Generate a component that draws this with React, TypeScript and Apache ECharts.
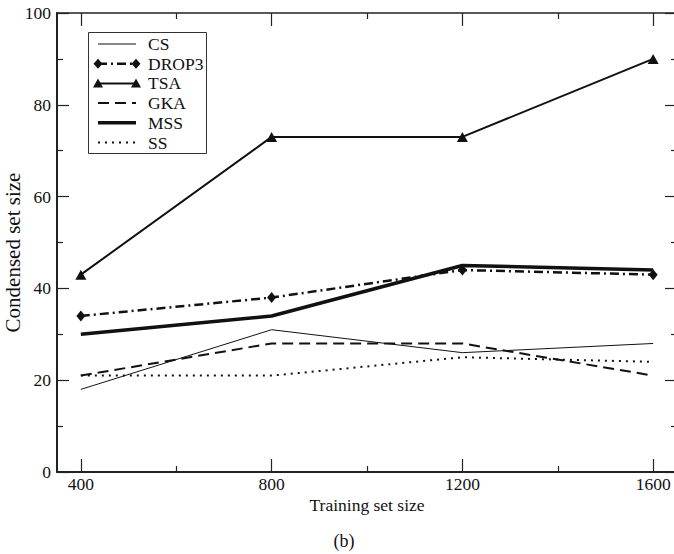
import React, { useEffect, useRef } from "react";
import * as echarts from "echarts";

const trainingSizes = [400, 800, 1200, 1600];
const xMajorTicks = [400, 800, 1200, 1600];
const xMinorTicks = [600, 1000, 1400];
const xTickSlots = [
  "350", "400", "450", "500", "550", "600", "650", "700", "750",
  "800", "850", "900", "950", "1000", "1050", "1100", "1150", "1200",
  "1250", "1300", "1350", "1400", "1450", "1500", "1550", "1600", "1650",
];
const csValues = [18, 31, 26, 28];
const drop3Values = [34, 38, 44, 43];
const tsaValues = [43, 73, 73, 90];
const gkaValues = [21, 28, 28, 21];
const mssValues = [30, 34, 45, 44];
const ssValues = [21, 21, 25, 24];
const legendNames = ["CS", "DROP3", "TSA", "GKA", "MSS", "SS"];

const FONT = "'Liberation Serif', 'Times New Roman', serif";
const FS = 17.5;
const INK = "#111";
const AXIS = "#222";

function pairs(vals: number[]) {
  return trainingSizes.map((x, i) => [x, vals[i]]);
}

export default function App() {
  const ref = useRef<HTMLDivElement>(null);
  useEffect(() => {
    document.body.style.margin = "0";
    const chart = echarts.init(ref.current!, null, { renderer: "svg" });

    const baseX = {
      type: "value" as const,
      min: 350,
      max: 1650,
      splitLine: { show: false },
    };
    const baseY = {
      type: "value" as const,
      min: 0,
      max: 100,
      interval: 20,
      splitLine: { show: false },
    };

    const tickAxis = (position: string, len: number, values: number[]) => ({
      type: "category" as const,
      data: xTickSlots,
      boundaryGap: false,
      position,
      axisLine: { show: false },
      axisTick: {
        show: true,
        inside: true,
        length: len,
        interval: (_i: number, v: string) => values.indexOf(Number(v)) >= 0,
        lineStyle: { color: AXIS, width: 1.2 },
      },
      axisLabel: { show: false },
      splitLine: { show: false },
    });

    // legend graphic
    const lx1 = 98;
    const lx2 = 136;
    const ly0 = 44;
    const ldy = 19.7;
    const legendEls: any[] = [
      {
        type: "rect",
        shape: { x: 88.5, y: 32.5, width: 118, height: 121 },
        style: { fill: "#fff", stroke: "#333", lineWidth: 1 },
        z: 100,
      },
    ];
    const lineStyles: any[] = [
      { lineWidth: 1, lineDash: null },
      { lineWidth: 2.5, lineDash: [9, 4, 2, 4] },
      { lineWidth: 2, lineDash: null },
      { lineWidth: 2, lineDash: [11, 6] },
      { lineWidth: 3.5, lineDash: null },
      { lineWidth: 2, lineDash: [2, 5] },
    ];
    legendNames.forEach((name, i) => {
      const y = ly0 + i * ldy;
      legendEls.push({
        type: "line",
        shape: { x1: lx1, y1: y, x2: lx2, y2: y },
        style: {
          stroke: INK,
          lineWidth: lineStyles[i].lineWidth,
          lineDash: lineStyles[i].lineDash,
        },
        z: 101,
      });
      legendEls.push({
        type: "text",
        x: 148,
        y: y,
        style: {
          text: name,
          fontFamily: FONT,
          fontSize: FS,
          fill: INK,
          verticalAlign: "middle",
          textAlign: "left",
        },
        z: 101,
      });
      if (i === 1) {
        [lx1, lx2].forEach((cx) => {
          legendEls.push({
            type: "polygon",
            shape: {
              points: [
                [cx, y - 5],
                [cx + 4.5, y],
                [cx, y + 5],
                [cx - 4.5, y],
              ],
            },
            style: { fill: INK },
            z: 102,
          });
        });
      }
      if (i === 2) {
        [lx1, lx2].forEach((cx) => {
          legendEls.push({
            type: "polygon",
            shape: {
              points: [
                [cx, y - 5],
                [cx + 5, y + 4],
                [cx - 5, y + 4],
              ],
            },
            style: { fill: INK },
            z: 102,
          });
        });
      }
    });

    chart.setOption({
      animation: false,
      backgroundColor: "#fff",
      grid: {
        left: 57,
        right: -3,
        top: 13,
        bottom: 82,
        outerBoundsMode: "none",
      },
      xAxis: [
        {
          ...baseX,
          position: "bottom",
          name: "Training set size",
          nameLocation: "middle",
          nameGap: 24,
          nameMoveOverlap: false,
          nameTextStyle: { fontFamily: FONT, fontSize: FS, color: INK },
          axisLine: { show: true, lineStyle: { color: AXIS, width: 2 } },
          axisTick: { show: false },
          axisLabel: {
            show: true,
            customValues: xMajorTicks,
            formatter: (v: number) => String(v),
            fontFamily: FONT,
            fontSize: FS,
            color: INK,
            margin: 3,
          },
        },
        tickAxis("bottom", 13, xMajorTicks),
        tickAxis("bottom", 6, xMinorTicks),
        {
          ...baseX,
          position: "top",
          axisLine: { show: true, lineStyle: { color: AXIS, width: 1.5 } },
          axisTick: { show: false },
          axisLabel: { show: false },
        },
        tickAxis("top", 13, xMajorTicks),
        tickAxis("top", 6, xMinorTicks),
      ],
      yAxis: [
        {
          ...baseY,
          position: "left",
          name: "Condensed set size",
          nameLocation: "middle",
          nameGap: 34,
          nameMoveOverlap: false,
          nameTextStyle: {
            fontFamily: FONT,
            fontSize: 21,
            color: INK,
            padding: [0, 20, 0, 0],
          },
          axisLine: { show: true, lineStyle: { color: AXIS, width: 2 } },
          axisTick: {
            show: true,
            inside: true,
            length: 12,
            lineStyle: { color: AXIS, width: 1.2 },
          },
          minorTick: {
            show: true,
            splitNumber: 2,
            length: 6,
            lineStyle: { color: AXIS, width: 1.2 },
          },
          axisLabel: {
            fontFamily: FONT,
            fontSize: FS,
            color: INK,
            margin: 6,
          },
        },
        {
          ...baseY,
          position: "right",
          axisLine: { show: true, lineStyle: { color: AXIS, width: 2 } },
          axisTick: {
            show: true,
            inside: true,
            length: 12,
            lineStyle: { color: AXIS, width: 1.2 },
          },
          minorTick: {
            show: true,
            splitNumber: 2,
            length: 6,
            lineStyle: { color: AXIS, width: 1.2 },
          },
          axisLabel: { show: false },
        },
      ],
      series: [
        {
          name: "CS",
          type: "line",
          data: pairs(csValues),
          showSymbol: false,
          symbol: "none",
          lineStyle: { color: INK, width: 1 },
        },
        {
          name: "DROP3",
          type: "line",
          data: pairs(drop3Values),
          symbol: "diamond",
          symbolSize: [9, 11],
          itemStyle: { color: INK },
          lineStyle: { color: INK, width: 2.5, type: [9, 4, 2, 4] },
        },
        {
          name: "TSA",
          type: "line",
          data: pairs(tsaValues),
          symbol: "triangle",
          symbolSize: [11, 10],
          itemStyle: { color: INK },
          lineStyle: { color: INK, width: 2 },
        },
        {
          name: "GKA",
          type: "line",
          data: pairs(gkaValues),
          symbol: "none",
          lineStyle: { color: INK, width: 2, type: [11, 6] },
        },
        {
          name: "MSS",
          type: "line",
          data: pairs(mssValues),
          symbol: "none",
          lineStyle: { color: INK, width: 3.5 },
        },
        {
          name: "SS",
          type: "line",
          data: pairs(ssValues),
          symbol: "none",
          lineStyle: { color: INK, width: 2, type: [2, 5] },
        },
      ],
      graphic: [
        ...legendEls,
        {
          type: "text",
          x: 344,
          y: 541,
          style: {
            text: "(b)",
            fontFamily: FONT,
            fontSize: 18,
            fill: INK,
            textAlign: "center",
            verticalAlign: "middle",
          },
        },
      ],
    });
    return () => chart.dispose();
  }, []);
  return <div ref={ref} style={{ width: 674, height: 554 }} />;
}
